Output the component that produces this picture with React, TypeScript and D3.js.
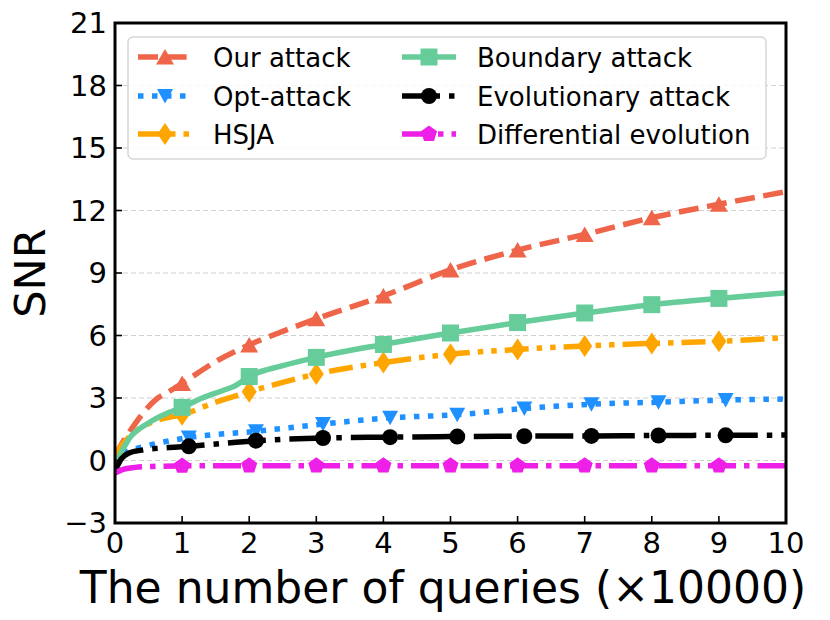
import * as d3 from "d3";

const W = 830;
const H = 620;
const ML = 115;
const MR = 44;
const MT = 23;
const MB = 97;

// data (x in units of 10000 queries)
const ourX = [0, 0.1, 0.2, 0.4, 0.6, 0.8, 1, 1.5, 2, 2.5, 3, 4, 5, 6, 7, 8, 9, 10];
const ourY = [0.2, 0.8, 1.3, 2.2, 2.9, 3.3, 3.7, 4.75, 5.55, 6.2, 6.8, 7.9, 9.15, 10.1, 10.85, 11.65, 12.3, 12.9];

const boundX = [0, 0.05, 0.2, 0.5, 0.8, 1, 1.3, 1.6, 1.8, 2, 2.5, 3, 4, 5, 6, 7, 8, 9, 10];
const boundY = [-0.3, 0.1, 1.0, 1.8, 2.3, 2.55, 3.0, 3.35, 3.6, 4.03, 4.55, 4.95, 5.57, 6.12, 6.62, 7.08, 7.48, 7.78, 8.05];

const hsjaX = [0, 0.05, 0.2, 0.4, 0.7, 1, 1.5, 2, 2.5, 3, 4, 5, 6, 7, 8, 9, 10];
const hsjaY = [0.2, 0.5, 1.1, 1.6, 2.0, 2.2, 2.8, 3.3, 3.75, 4.15, 4.7, 5.1, 5.33, 5.5, 5.62, 5.72, 5.9];

const optX = [0, 0.1, 0.3, 0.6, 1.1, 2.1, 3.1, 4.1, 5.1, 6.1, 7.1, 8.1, 9.1, 10];
const optY = [-0.2, 0.3, 0.55, 0.8, 1.1, 1.4, 1.75, 2.05, 2.2, 2.5, 2.7, 2.8, 2.9, 2.95];

const evoX = [0, 0.1, 0.2, 0.4, 0.7, 1.1, 2.1, 3.1, 4.1, 5.1, 6.1, 7.1, 8.1, 9.1, 10];
const evoY = [-0.5, 0.1, 0.35, 0.5, 0.6, 0.68, 0.95, 1.08, 1.12, 1.15, 1.17, 1.18, 1.2, 1.21, 1.22];

const deX = [0, 0.1, 0.3, 0.6, 1, 2, 3, 4, 5, 6, 7, 8, 9, 10];
const deY = [-0.6, -0.45, -0.33, -0.28, -0.26, -0.25, -0.25, -0.25, -0.25, -0.25, -0.25, -0.25, -0.25, -0.25];

const markAt = [1, 2, 3, 4, 5, 6, 7, 8, 9];
const markAtShift = [1.1, 2.1, 3.1, 4.1, 5.1, 6.1, 7.1, 8.1, 9.1];

const xTicks = [0, 1, 2, 3, 4, 5, 6, 7, 8, 9, 10];
const yTicks = [-3, 0, 3, 6, 9, 12, 15, 18, 21];

type Marker = "tri" | "triDown" | "diamond" | "square" | "circle" | "pentagon";

const series = [
  { name: "Our attack", xs: ourX, ys: ourY, marks: markAt, color: "#ef6549", dash: "20 8.6", marker: "tri" as Marker },
  { name: "Opt-attack", xs: optX, ys: optY, marks: markAtShift, color: "#1e90ff", dash: "5.5 8.5", marker: "triDown" as Marker },
  { name: "HSJA", xs: hsjaX, ys: hsjaY, marks: markAt, color: "#ffa500", dash: "24 8 5.5 8 5.5 8", marker: "diamond" as Marker },
  { name: "Boundary attack", xs: boundX, ys: boundY, marks: markAt, color: "#66cc99", dash: "", marker: "square" as Marker },
  { name: "Evolutionary attack", xs: evoX, ys: evoY, marks: markAtShift, color: "#000000", dash: "38 9 5.5 9", marker: "circle" as Marker },
  { name: "Differential evolution", xs: deX, ys: deY, marks: markAt, color: "#ee1fe6", dash: "28 8 5.5 8", marker: "pentagon" as Marker },
];

function markerPath(m: Marker): string {
  switch (m) {
    case "tri":
      return "M0,-8L9,7.5L-9,7.5Z";
    case "triDown":
      return "M0,7.5L8,-7L-8,-7Z";
    case "diamond":
      return "M0,-11L7.5,0L0,11L-7.5,0Z";
    case "square":
      return "M-8.5,-8.5H8.5V8.5H-8.5Z";
    case "circle":
      return d3.symbol(d3.symbolCircle, Math.PI * 8 * 8)()!;
    case "pentagon": {
      const pts = d3.range(5).map((i) => {
        const a = -Math.PI / 2 + (i * 2 * Math.PI) / 5;
        return [8.5 * Math.cos(a), 8.5 * Math.sin(a)];
      });
      return "M" + pts.map((p) => p.join(",")).join("L") + "Z";
    }
  }
}

const FONT = "DejaVu Sans, sans-serif";

export default function App() {
  const x = d3.scaleLinear().domain([0, 10]).range([ML, W - MR]);
  const y = d3.scaleLinear().domain([-3, 21]).range([H - MB, MT]);
  const line = d3
    .line<[number, number]>()
    .x((d) => x(d[0]))
    .y((d) => y(d[1]))
    .curve(d3.curveMonotoneX);

  const legendCols = [138, 402];
  const legendRows = [57, 96, 134];

  return (
    <svg
      width={W}
      height={H}
      viewBox={`0 0 ${W} ${H}`}
      style={{ position: "absolute", left: 0, top: 0, background: "#fff", fontFamily: FONT }}
    >
      <defs>
        <clipPath id="plot">
          <rect x={ML} y={MT} width={W - MR - ML} height={H - MB - MT} />
        </clipPath>
      </defs>

      {/* grid */}
      <g stroke="#d0d0d0" strokeWidth={1.2} strokeDasharray="5 3">
        {yTicks.map((t) => (
          <line key={t} x1={ML} x2={W - MR} y1={y(t)} y2={y(t)} />
        ))}
      </g>

      {/* series */}
      <g clipPath="url(#plot)">
        {series.map((s) => {
          const pts = s.xs.map((v, i) => [v, s.ys[i]] as [number, number]);
          const mpts = pts.filter((p) => s.marks.some((m) => Math.abs(m - p[0]) < 1e-9));
          return (
            <g key={s.name}>
              <path
                d={line(pts) ?? ""}
                fill="none"
                stroke={s.color}
                strokeWidth={5.5}
                strokeDasharray={s.dash || undefined}
              />
              {mpts.map((p, i) => (
                <path
                  key={i}
                  d={markerPath(s.marker)}
                  transform={`translate(${x(p[0])},${y(p[1])})`}
                  fill={s.color}
                />
              ))}
            </g>
          );
        })}
      </g>

      {/* ticks, inward */}
      <g stroke="#000" strokeWidth={1.6}>
        {xTicks.map((t) => (
          <line key={t} x1={x(t)} x2={x(t)} y1={H - MB} y2={H - MB - 7} />
        ))}
        {yTicks.map((t) => (
          <line key={t} x1={ML} x2={ML + 7} y1={y(t)} y2={y(t)} />
        ))}
      </g>

      {/* frame */}
      <rect
        x={ML}
        y={MT}
        width={W - MR - ML}
        height={H - MB - MT}
        fill="none"
        stroke="#000"
        strokeWidth={3}
      />

      {/* tick labels */}
      <g fontSize={29} fill="#000">
        {xTicks.map((t) => (
          <text key={t} x={x(t)} y={H - MB + 30} textAnchor="middle">
            {t}
          </text>
        ))}
        {yTicks.map((t) => (
          <text key={t} x={ML - 8} y={y(t)} dy="0.36em" textAnchor="end">
            {t < 0 ? `\u2212${-t}` : t}
          </text>
        ))}
      </g>

      {/* axis titles */}
      <text x={443} y={603} fontSize={44} textAnchor="middle" fill="#000">
        The number of queries (×10000)
      </text>
      <text
        transform={`translate(45,${(MT + H - MB) / 2}) rotate(-90)`}
        fontSize={43}
        textAnchor="middle"
        fill="#000"
      >
        SNR
      </text>

      {/* legend */}
      <rect
        x={128}
        y={37}
        width={638}
        height={122}
        rx={5}
        fill="#fff"
        fillOpacity={0.85}
        stroke="#d6d6d6"
        strokeWidth={1.5}
      />
      {series.map((s, i) => {
        const cx = legendCols[Math.floor(i / 3)];
        const cy = legendRows[i % 3];
        return (
          <g key={s.name}>
            <line
              x1={cx}
              x2={cx + 54}
              y1={cy}
              y2={cy}
              stroke={s.color}
              strokeWidth={5.5}
              strokeDasharray={s.dash || undefined}
            />
            <path d={markerPath(s.marker)} transform={`translate(${cx + 27},${cy})`} fill={s.color} />
            <text x={cx + 75} y={cy + 10} fontSize={26} fill="#000">
              {s.name}
            </text>
          </g>
        );
      })}
    </svg>
  );
}
